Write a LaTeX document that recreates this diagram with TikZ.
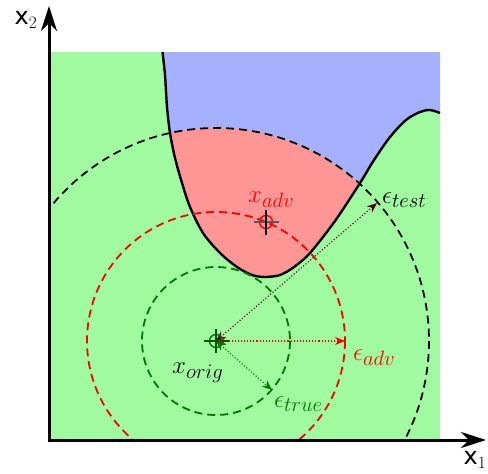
\documentclass[tikz,border=0pt]{standalone}
\usepackage{fontspec}
\newfontfamily\axfont{DejaVu Sans}
\usetikzlibrary{arrows.meta}
\definecolor{bggreen}{RGB}{160,251,160}
\definecolor{bgblue}{RGB}{165,176,255}
\definecolor{bgred}{RGB}{255,150,150}
\definecolor{dgreen}{RGB}{0,120,0}
\definecolor{dtest}{RGB}{70,0,0}
\tikzset{
  axis/.style={line width=3pt,-{Stealth[length=25pt,width=16pt,inset=8pt]}},
  ring/.style={dashed,dash pattern=on 8pt off 5pt,line width=1.8pt},
  rad/.style={dotted,line width=1.1pt,{Stealth[length=10pt,width=8pt]}-{Stealth[length=10pt,width=8pt]}},
  lbl/.style={font=\fontsize{30}{36}\selectfont,inner sep=0pt,anchor=base west},
  axlbl/.style={font=\axfont\fontsize{24}{28}\selectfont}
}
\def\boundary{(162.5,52) (165,75) (167,107) (170,133) (175,158) (182,183) (190,207) (203,233) (220,253) (237,267) (252,275) (265,277) (280,275) (294,267) (310,253) (335,221) (360,183) (374,160) (390,137) (406,120) (420,112) (430,110) (440,113)}
\begin{document}
\begin{tikzpicture}[x=1pt,y=-1pt]
\useasboundingbox (0,0) rectangle (488,474);
\coordinate (O) at (216,341);
\coordinate (A) at (266,222);
% background regions
\fill[bggreen] (49,52) rectangle (440,440);
\fill[bgblue] plot[smooth,tension=0.5] coordinates {\boundary} -- (440,52) -- cycle;
\begin{scope}
\clip (O) circle (213);
\fill[bgred] plot[smooth,tension=0.5] coordinates {\boundary} -- (440,52) -- cycle;
\end{scope}
\draw[line width=2.4pt] plot[smooth,tension=0.5] coordinates {\boundary};
% circles
\begin{scope}
\clip (49,52) rectangle (440,440);
\draw[ring,dgreen] (O) circle (74);
\draw[ring,red] (O) circle (129);
\draw[ring,black] (O) circle (213);
\end{scope}
% radius arrows
\coordinate (T) at (377,203);
\coordinate (D) at (345,341);
\coordinate (R) at (272,390);
\draw[rad,dtest] (O) -- (T);
\draw[rad,red] (O) -- (D);
\draw[rad,dgreen] (O) -- (R);
% markers
\draw[red,line width=1.4pt] (A) circle (6.5);
\draw[gray!70!black,line width=1.4pt] (254,222) -- (279,222);
\draw[black,line width=1.1pt] (266,210) -- (266,235);
\draw[dgreen,line width=1.4pt] (O) circle (6.5);
\draw[dgreen!70!black,line width=1.3pt] (204,341) -- (229,341);
\draw[dgreen!70!black,line width=1.3pt] (216,329) -- (216,353);
% labels
\node[lbl,red] (la) at (248,202) {$x_{adv}$};
\node[lbl] (lo) at (172,373) {$x_{orig}$};
\node[lbl] (lt) at (382,203) {$\epsilon_{test}$};
\node[lbl,red] (lad) at (353,360) {$\epsilon_{adv}$};
\node[lbl,dgreen] (ltr) at (274,407) {$\epsilon_{true}$};
% axes
\coordinate (yb) at (49,441.5);
\coordinate (yt) at (49,6);
\coordinate (xb) at (47.5,440);
\coordinate (xt) at (486,440);
\draw[axis] (yb) -- (yt);
\draw[axis] (xb) -- (xt);
\node[axlbl] (x2) at (26,20) {x$_2$};
\node[axlbl] (x1) at (475,460) {x$_1$};
\end{tikzpicture}
\end{document}
